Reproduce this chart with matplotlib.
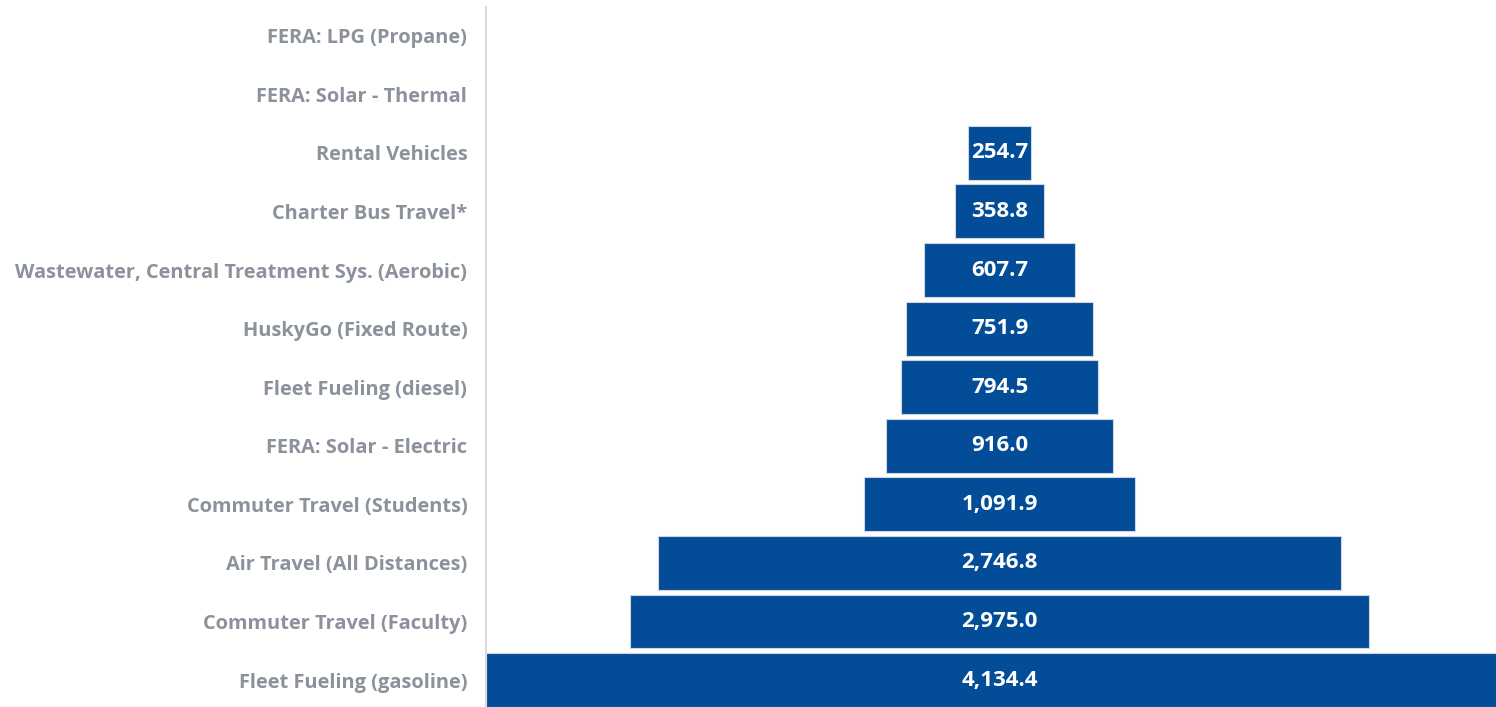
import matplotlib
matplotlib.use("Agg")
import matplotlib.pyplot as plt

# categories top to bottom, values in the same order
categories = [
    "FERA: LPG (Propane)",
    "FERA: Solar - Thermal",
    "Rental Vehicles",
    "Charter Bus Travel*",
    "Wastewater, Central Treatment Sys. (Aerobic)",
    "HuskyGo (Fixed Route)",
    "Fleet Fueling (diesel)",
    "FERA: Solar - Electric",
    "Commuter Travel (Students)",
    "Air Travel (All Distances)",
    "Commuter Travel (Faculty)",
    "Fleet Fueling (gasoline)",
]
values = [0.0, 0.0, 254.7, 358.8, 607.7, 751.9, 794.5, 916.0, 1091.9, 2746.8, 2975.0, 4134.4]

bar_color = "#034C98"
label_color = "#8B929C"
plt.rcParams["font.family"] = ["Open Sans", "DejaVu Sans"]

W, H = 1496, 707
fig = plt.figure(figsize=(W / 100, H / 100), dpi=100)
# axes placed in pixels: left edge 486, top 7, runs past right/bottom edge
ax = fig.add_axes([486 / W, 0, 1 - 486 / W, 1 - 7 / H])

ys = list(range(len(categories)))
lefts = [-v / 2 for v in values]
widths = [0.8 if v > 0 else 0 for v in values]
ax.barh(ys, values, left=lefts, height=0.92, color=bar_color,
        edgecolor="#d0d6e0", linewidth=widths)

for y, v in zip(ys, values):
    if v > 0:
        ax.text(0, y, f"{v:,.1f}", ha="center", va="center", color="white",
                fontsize=16, fontweight="bold")

ax.set_xlim(-2067, 1998)
ax.set_ylim(11.46, -0.49)
ax.set_yticks(ys)
ax.set_yticklabels(categories, fontsize=14.4, fontweight="bold", color=label_color)
ax.tick_params(axis="y", length=0, pad=13.5)
ax.set_xticks([])
for s in ["top", "right", "bottom"]:
    ax.spines[s].set_visible(False)
ax.spines["left"].set_color("#d9d9de")
ax.spines["left"].set_linewidth(1.5)

fig.savefig("out.png", dpi=100)
